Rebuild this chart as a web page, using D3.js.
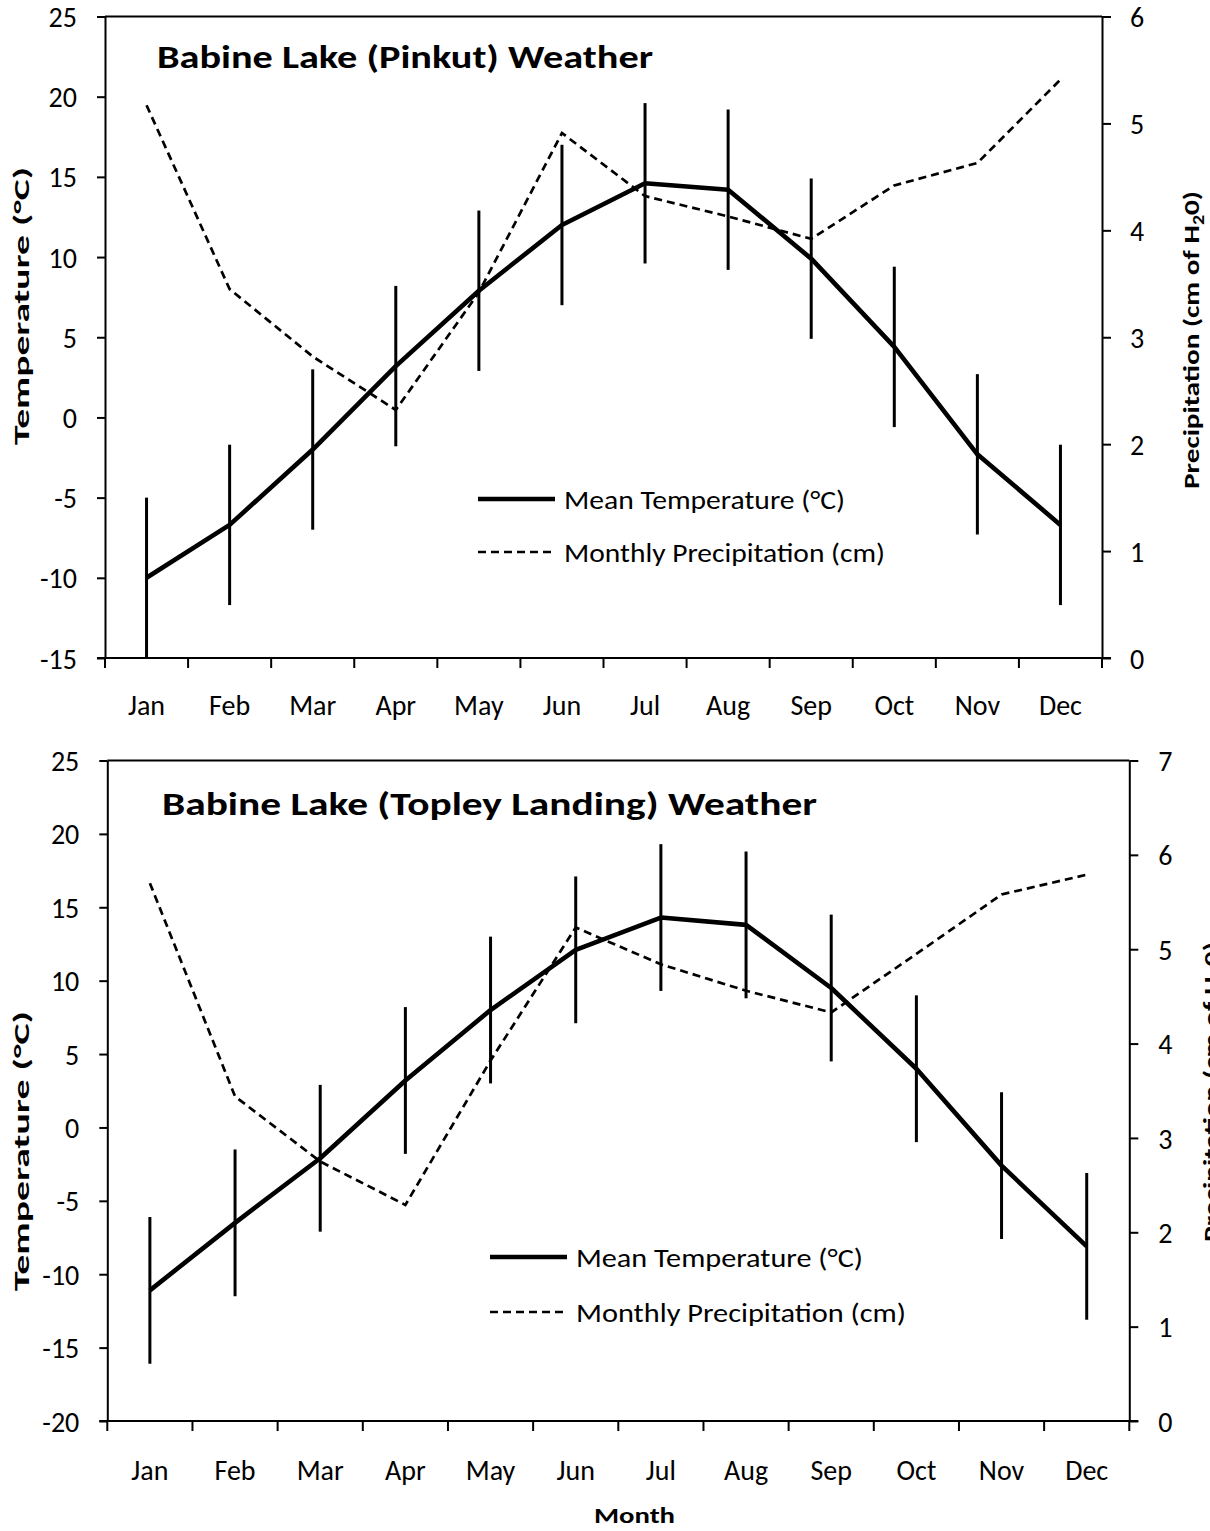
<!DOCTYPE html>
<html>
<head>
<meta charset="utf-8">
<script src="https://cdn.jsdelivr.net/npm/d3@7"></script>
<style>
  html, body { margin: 0; padding: 0; background: #fff; }
  svg { display: block; }
  text { font-family: Carlito, Lato, "Liberation Sans", sans-serif; fill: #000; }
</style>
</head>
<body>
<svg id="chart" width="1210" height="1531"></svg>
<script>
// Month categories shared by both stations
const months = ["Jan","Feb","Mar","Apr","May","Jun","Jul","Aug","Sep","Oct","Nov","Dec"];

// Babine Lake (Pinkut): mean temperature (°C), its spread, monthly precipitation (cm)
const pinkutTemp   = [-10.0, -6.7, -2.0, 3.2, 7.9, 12.0, 14.6, 14.2, 9.9, 4.4, -2.3, -6.7];
const pinkutTempSd = [5.0, 5.0, 5.0, 5.0, 5.0, 5.0, 5.0, 5.0, 5.0, 5.0, 5.0, 5.0];
const pinkutPrecip = [5.17, 3.45, 2.82, 2.32, 3.42, 4.91, 4.32, 4.13, 3.92, 4.42, 4.63, 5.41];

// Babine Lake (Topley Landing)
const topleyTemp   = [-11.1, -6.5, -2.1, 3.2, 8.0, 12.1, 14.3, 13.8, 9.5, 4.0, -2.6, -8.1];
const topleyTempSd = [5.0, 5.0, 5.0, 5.0, 5.0, 5.0, 5.0, 5.0, 5.0, 5.0, 5.0, 5.0];
const topleyPrecip = [5.70, 3.44, 2.75, 2.29, 3.82, 5.23, 4.84, 4.56, 4.33, 4.95, 5.58, 5.79];

// Axis tick values
const pinkutTempTicks   = [-15, -10, -5, 0, 5, 10, 15, 20, 25];
const pinkutPrecipTicks = [0, 1, 2, 3, 4, 5, 6];
const topleyTempTicks   = [-20, -15, -10, -5, 0, 5, 10, 15, 20, 25];
const topleyPrecipTicks = [0, 1, 2, 3, 4, 5, 6, 7];

// Text
const pinkutTitle = "Babine Lake (Pinkut) Weather";
const topleyTitle = "Babine Lake (Topley Landing) Weather";
const tempAxisTitle = "Temperature (°C)";
const legendTemp = "Mean Temperature (°C)";
const legendPrecip = "Monthly Precipitation (cm)";
const xAxisTitle = "Month";

const svg = d3.select("#chart");
const plain = d => String(d);   // hyphen-minus for negative ticks
const TICK_FONT = 28;

function drawPanel(p) {
  const g = svg.append("g");

  const x = d3.scaleBand().domain(months).range([p.left, p.right]).paddingInner(0).paddingOuter(0);
  const cx = m => x(m) + x.bandwidth() / 2;
  const yT = d3.scaleLinear().domain([p.tempTicks[0], p.tempTicks[p.tempTicks.length - 1]]).range([p.bottom, p.top]);
  const yP = d3.scaleLinear().domain([p.precipTicks[0], p.precipTicks[p.precipTicks.length - 1]]).range([p.bottom, p.top]);

  // top frame line
  g.append("line")
    .attr("x1", p.left).attr("x2", p.right)
    .attr("y1", p.top).attr("y2", p.top)
    .attr("stroke", "#000").attr("stroke-width", 2);

  // left temperature axis
  const axL = g.append("g").attr("transform", `translate(${p.left},0)`)
    .call(d3.axisLeft(yT).tickValues(p.tempTicks).tickSize(8).tickSizeOuter(0).tickPadding(20).tickFormat(plain));
  axL.attr("font-family", null).attr("font-size", null);
  axL.select(".domain").attr("stroke-width", 2);
  axL.selectAll(".tick line").attr("stroke-width", 2);
  axL.selectAll("text").attr("font-size", TICK_FONT).attr("dy", "0.36em");

  // right precipitation axis
  const axR = g.append("g").attr("transform", `translate(${p.right},0)`)
    .call(d3.axisRight(yP).tickValues(p.precipTicks).tickSize(9).tickSizeOuter(0).tickPadding(p.rightPad).tickFormat(plain));
  axR.attr("font-family", null).attr("font-size", null);
  axR.select(".domain").attr("stroke-width", 2);
  axR.selectAll(".tick line").attr("stroke-width", 2);
  axR.selectAll("text").attr("font-size", TICK_FONT).attr("dy", "0.36em");

  // bottom month axis: baseline plus ticks on the category boundaries
  g.append("line")
    .attr("x1", p.left - 8).attr("x2", p.right + 9)
    .attr("y1", p.bottom).attr("y2", p.bottom)
    .attr("stroke", "#000").attr("stroke-width", 2.2);
  const bounds = months.map(m => x(m)).concat([p.right]);
  g.selectAll(".xtick").data(bounds).join("line")
    .attr("x1", d => d).attr("x2", d => d)
    .attr("y1", p.bottom).attr("y2", p.bottom + 10)
    .attr("stroke", "#000").attr("stroke-width", 2);
  g.selectAll(".xlab").data(months).join("text")
    .attr("x", d => cx(d))
    .attr("y", p.bottom + p.xLabelOffset)
    .attr("text-anchor", "middle")
    .attr("font-size", TICK_FONT)
    .text(d => d);

  // precipitation dashed line
  const precipLine = d3.line().x((d, i) => cx(months[i])).y(d => yP(d));
  g.append("path").datum(p.precip)
    .attr("d", precipLine)
    .attr("fill", "none").attr("stroke", "#000")
    .attr("stroke-width", 2.7).attr("stroke-dasharray", "8,5");

  // temperature error bars
  g.selectAll(".err").data(p.temp).join("line")
    .attr("x1", (d, i) => cx(months[i])).attr("x2", (d, i) => cx(months[i]))
    .attr("y1", (d, i) => yT(d + p.tempSd[i]))
    .attr("y2", (d, i) => yT(d - p.tempSd[i]))
    .attr("stroke", "#000").attr("stroke-width", 3);

  // mean temperature line
  const tempLine = d3.line().x((d, i) => cx(months[i])).y(d => yT(d));
  g.append("path").datum(p.temp)
    .attr("d", tempLine)
    .attr("fill", "none").attr("stroke", "#000")
    .attr("stroke-width", 4.6).attr("stroke-linejoin", "round");

  // title
  g.append("text")
    .attr("x", p.titleX).attr("y", p.titleY)
    .attr("font-size", 32).attr("font-weight", "bold")
    .attr("textLength", p.titleLen).attr("lengthAdjust", "spacingAndGlyphs")
    .text(p.title);

  // legend
  const lg = g.append("g");
  lg.append("line")
    .attr("x1", p.legX).attr("x2", p.legX + 77)
    .attr("y1", p.legY).attr("y2", p.legY)
    .attr("stroke", "#000").attr("stroke-width", 4.6);
  lg.append("text")
    .attr("x", p.legX + 86).attr("y", p.legY + 10)
    .attr("font-size", 26)
    .attr("textLength", p.legLen[0]).attr("lengthAdjust", "spacingAndGlyphs")
    .text(legendTemp);
  lg.append("line")
    .attr("x1", p.legX).attr("x2", p.legX + 77)
    .attr("y1", p.legY + p.legGap).attr("y2", p.legY + p.legGap)
    .attr("stroke", "#000").attr("stroke-width", 2.7).attr("stroke-dasharray", "8,5");
  lg.append("text")
    .attr("x", p.legX + 86).attr("y", p.legY + p.legGap + 10)
    .attr("font-size", 26)
    .attr("textLength", p.legLen[1]).attr("lengthAdjust", "spacingAndGlyphs")
    .text(legendPrecip);

  // left axis title
  g.append("text")
    .attr("transform", `translate(${p.leftTitleX},${p.leftTitleY}) rotate(-90)`)
    .attr("x", -p.leftTitleLen / 2)
    .attr("font-size", 22).attr("font-weight", "bold")
    .attr("textLength", p.leftTitleLen).attr("lengthAdjust", "spacingAndGlyphs")
    .text(tempAxisTitle);

  // right axis title with subscript
  const rt = g.append("text")
    .attr("transform", `translate(${p.rightTitleX},${p.rightTitleY}) rotate(-90)`)
    .attr("x", -p.rightTitleLen / 2)
    .attr("font-size", 22).attr("font-weight", "bold")
    .attr("textLength", p.rightTitleLen).attr("lengthAdjust", "spacingAndGlyphs");
  rt.append("tspan").text("Precipitation (cm of H");
  rt.append("tspan").attr("font-size", 15).attr("dy", 5).text("2");
  rt.append("tspan").attr("dy", -5).text("0)");
}

drawPanel({
  left: 105, right: 1102, top: 16.5, bottom: 658,
  tempTicks: pinkutTempTicks, precipTicks: pinkutPrecipTicks,
  temp: pinkutTemp, tempSd: pinkutTempSd, precip: pinkutPrecip,
  rightPad: 19, xLabelOffset: 57,
  title: pinkutTitle, titleX: 157, titleY: 68, titleLen: 496,
  legX: 478, legY: 499, legGap: 53, legLen: [281, 321],
  leftTitleX: 29, leftTitleY: 306, leftTitleLen: 278,
  rightTitleX: 1199, rightTitleY: 340, rightTitleLen: 298
});

drawPanel({
  left: 107.3, right: 1129.3, top: 760.5, bottom: 1421,
  tempTicks: topleyTempTicks, precipTicks: topleyPrecipTicks,
  temp: topleyTemp, tempSd: topleyTempSd, precip: topleyPrecip,
  rightPad: 20, xLabelOffset: 59,
  title: topleyTitle, titleX: 162, titleY: 815, titleLen: 655,
  legX: 490, legY: 1257, legGap: 55, legLen: [287, 330],
  leftTitleX: 29, leftTitleY: 1151, leftTitleLen: 280,
  rightTitleX: 1219, rightTitleY: 1092, rightTitleLen: 300
});

// shared x-axis title
svg.append("text")
  .attr("x", 594).attr("y", 1523)
  .attr("font-size", 23).attr("font-weight", "bold")
  .attr("textLength", 81).attr("lengthAdjust", "spacingAndGlyphs")
  .text(xAxisTitle);
</script>
</body>
</html>
